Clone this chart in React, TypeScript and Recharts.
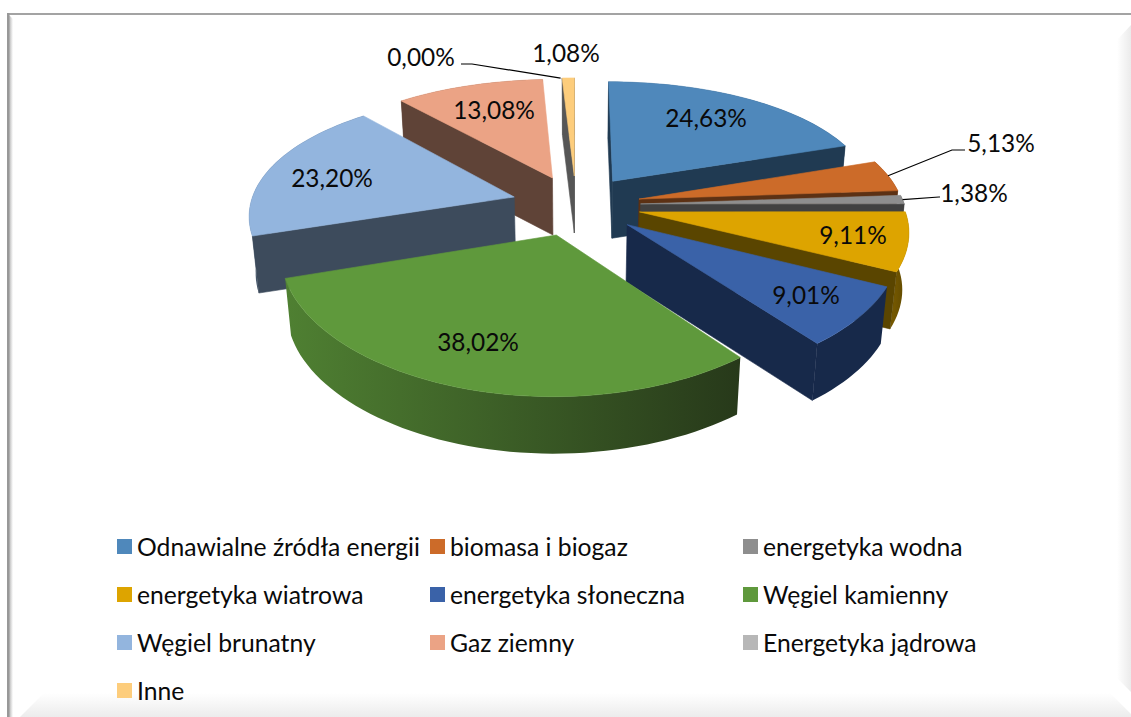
import React from 'react';
import { PieChart, Pie, Legend } from 'recharts';

const categories = ['Odnawialne źródła energii', 'biomasa i biogaz', 'energetyka wodna', 'energetyka wiatrowa', 'energetyka słoneczna', 'Węgiel kamienny', 'Węgiel brunatny', 'Gaz ziemny', 'Energetyka jądrowa', 'Inne'];
const shares = [24.63, 5.13, 1.38, 9.11, 9.01, 38.02, 23.2, 13.08, 0.0, 1.08];
const topColors = ['#4F88BB', '#CC6B29', '#8E8E8E', '#DDA400', '#3A62A8', '#5F993C', '#93B5DE', '#EBA385', '#B7B7B7', '#FDCD7C'];
const wallColors = ['#203A52', '#5C3114', '#414141', '#5A4500', '#17294A', '#27391A', '#3D4B5C', '#5F4337', '#555555', '#565656'];
const arcLightColors = ['#2A4C6A', '#6E3C18', '#505050', '#7A5C00', '#17294A', '#4F8032', '#4A5C70', '#6E4E40', '#555555', '#565656'];

// back-to-front painting order of the slices
const paintOrder = [7, 9, 8, 0, 1, 2, 3, 6, 4, 5];

const tableData = categories.map((name, i) => ({ name, value: shares[i] }));

const W = 1131, H = 717, CX = 576, CY = 205, R = 264;
const SQUASH = 0.467, PERSP = 0.167, PERSP_X = 0.13, EXPLODE = 0.245, DEPTH = 57, SHRINK = 0.98;
const FONT = 'Lato, Carlito, sans-serif';
const TEXT_SIZE = 24.7;

const rad = (d: number) => (d * Math.PI) / 180;
type Pt = [number, number];
function project(a: number, r: number, mid: number, e: number, cx: number, cy: number, rx: number): Pt {
  const x = Math.sin(rad(a)) * r + Math.sin(rad(mid)) * e;
  const z = Math.cos(rad(a)) * r + Math.cos(rad(mid)) * e;
  return [cx + (rx * x) / (1 + PERSP_X * z), cy - (rx * SQUASH * z) / (1 + PERSP * z)];
}
const down = (p: Pt, cx: number): Pt => [cx + (p[0] - cx) * SHRINK, p[1] + DEPTH];
const toPath = (pts: Pt[]) => 'M' + pts.map((p) => `${p[0].toFixed(2)},${p[1].toFixed(2)}`).join('L') + 'Z';
const area = (q: Pt[]) => q.reduce((s, p, i) => { const n = q[(i + 1) % q.length]; return s + p[0] * n[1] - n[0] * p[1]; }, 0);

function sliceShape(which: number) {
  return (props: any) => {
    const { cx, cy, outerRadius, startAngle, endAngle, index } = props;
    if (index !== which || Math.abs(endAngle - startAngle) < 0.01) return <g />;
    const a0 = 90 - startAngle, a1 = 90 - endAngle, mid = (a0 + a1) / 2;
    const apex = project(0, 0, mid, EXPLODE, cx, cy, outerRadius);
    const arc: Pt[] = [];
    const n = Math.max(2, Math.ceil((a1 - a0) / 2));
    for (let k = 0; k <= n; k++) arc.push(project(a0 + ((a1 - a0) * k) / n, 1, mid, EXPLODE, cx, cy, outerRadius));
    const start = arc[0], end = arc[arc.length - 1];
    const startWall = [apex, start, down(start, cx), down(apex, cx)];
    const endWall = [end, apex, down(apex, cx), down(end, cx)];
    const arcWall = [...arc, ...arc.map((p) => down(p, cx)).reverse()];
    const id = `arcfill-${index}`;
    const wall = wallColors[index];
    return (
      <g>
        <defs>
          <linearGradient id={id} x1="0" x2="1" y1="0" y2="0">
            <stop offset="0" stopColor={arcLightColors[index]} />
            <stop offset="1" stopColor={wall} />
          </linearGradient>
        </defs>
        <path d={toPath(arcWall)} fill={`url(#${id})`} />
        {area(startWall) < 0 && <path d={toPath(startWall)} fill={wall} stroke={wall} strokeWidth={0.6} />}
        {area(endWall) < 0 && <path d={toPath(endWall)} fill={wall} stroke={wall} strokeWidth={0.6} />}
        <path d={toPath([apex, ...arc])} fill={topColors[index]} stroke={topColors[index]} strokeWidth={0.6} strokeLinejoin="round" />
      </g>
    );
  };
}

// label centres relative to the pie centre
const labelOffsets: Pt[] = [[130, -88], [425, -63], [398, -13], [277, 29], [230, 89], [-98, 136], [-244, -28], [-82, -96], [-155, -149], [-10, -153]];
// elbow of a leader line relative to the pie centre, for labels that have one
const leaderElbows: (Pt | null)[] = [null, [376, -55], [363, -8], null, null, null, null, null, [-104, -141], null];
const leaderTails: (Pt | null)[] = [null, [389, -55], [364, -8], null, null, null, null, null, [-115, -141], null];

function renderLabel(props: any) {
  const { cx, cy, outerRadius, startAngle, endAngle, index } = props;
  const a0 = 90 - startAngle, a1 = 90 - endAngle, mid = (a0 + a1) / 2;
  const [dx, dy] = labelOffsets[index];
  const elbow = leaderElbows[index], tail = leaderTails[index];
  const tip = project(mid, 1, mid, EXPLODE, cx, cy, outerRadius);
  return (
    <g key={index}>
      {elbow && tail && (
        <polyline points={`${tip[0]},${tip[1]} ${cx + elbow[0]},${cy + elbow[1]} ${cx + tail[0]},${cy + tail[1]}`} fill="none" stroke="#000" strokeWidth={1.2} />
      )}
      <text x={cx + dx} y={cy + dy} textAnchor="middle" dominantBaseline="central" fontFamily={FONT} fontSize={24.4} fill="#0a0a0a">
        {shares[index].toFixed(2).replace('.', ',')}%
      </text>
    </g>
  );
}

function LegendGrid() {
  return (
    <div style={{ display: 'grid', gridTemplateColumns: 'repeat(3, 313px)', gridAutoRows: '48px', fontFamily: FONT, fontSize: TEXT_SIZE, color: '#0a0a0a' }}>
      {categories.map((c, i) => (
        <div key={c} style={{ display: 'flex', alignItems: 'center', whiteSpace: 'nowrap' }}>
          <span style={{ width: 15, height: 15, background: topColors[i], marginRight: 5, flex: 'none' }} />
          <span>{c}</span>
        </div>
      ))}
    </div>
  );
}

function Frame() {
  return (
    <svg width={W} height={H} style={{ position: 'absolute', left: 0, top: 0 }}>
      <defs>
        <linearGradient id="bevR" x1="0" x2="1" y1="0" y2="0"><stop offset="0" stopColor="#fff" /><stop offset="1" stopColor="#ebebeb" /></linearGradient>
        <linearGradient id="bevB" x1="0" x2="0" y1="0" y2="1"><stop offset="0" stopColor="#fff" /><stop offset="1" stopColor="#ececec" /></linearGradient>
        <linearGradient id="bevL" x1="0" x2="1" y1="0" y2="0"><stop offset="0" stopColor="#b5b5b5" /><stop offset="1" stopColor="#fff" /></linearGradient>
      </defs>
      <polygon points="1131,25 1117,40 1117,678 1131,692" fill="url(#bevR)" />
      <polygon points="20,717 44,693 1110,693 1131,714 1131,717" fill="url(#bevB)" />
      <polygon points="9,15 13,19 13,717 9,717" fill="url(#bevL)" />
      <rect x={7} y={13} width={1124} height={2} fill="#a3a3a3" />
      <rect x={7} y={13} width={2.4} height={704} fill="#989898" />
    </svg>
  );
}

export default function App() {
  return (
    <div style={{ position: 'absolute', left: 0, top: 0, width: W, height: H, overflow: 'hidden', background: '#fff' }}>
      <Frame />
      <div style={{ position: 'absolute', left: 0, top: 0 }}>
        <PieChart width={W} height={H} margin={{ top: 0, right: 0, bottom: 0, left: 0 }}>
          {paintOrder.map((i) => (
            <Pie key={i} data={tableData} dataKey="value" nameKey="name" cx={CX} cy={CY} outerRadius={R} startAngle={90} endAngle={-270} stroke="none" isAnimationActive={false} shape={sliceShape(i)} legendType="none" />
          ))}
          <Pie data={tableData} dataKey="value" nameKey="name" cx={CX} cy={CY} outerRadius={R} startAngle={90} endAngle={-270} stroke="none" isAnimationActive={false} shape={() => <g />} label={renderLabel} labelLine={false} legendType="none" />
          <Legend content={<LegendGrid />} wrapperStyle={{ position: 'absolute', left: 117, top: 522, width: 960, bottom: 'auto', right: 'auto' }} />
        </PieChart>
      </div>
    </div>
  );
}
